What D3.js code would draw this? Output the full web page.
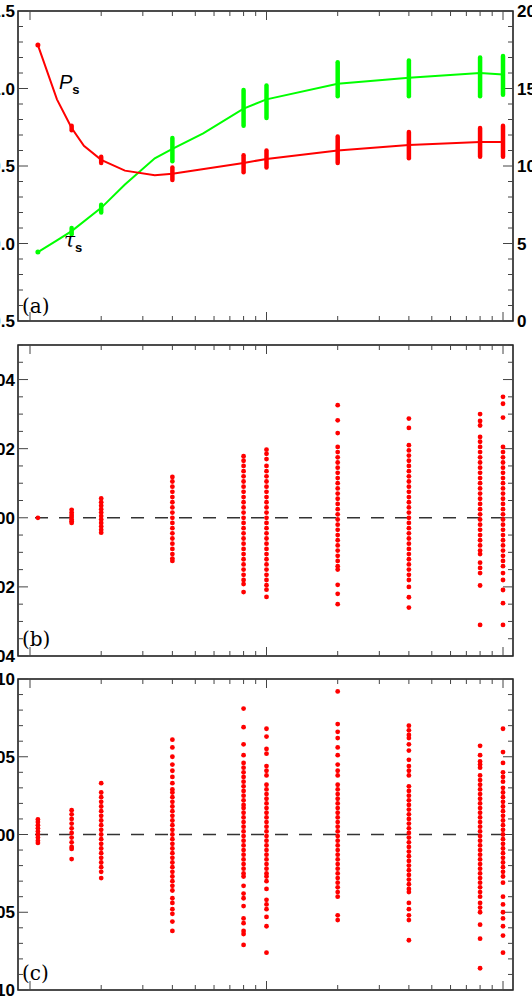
<!DOCTYPE html>
<html><head><meta charset="utf-8">
<script src="https://cdn.jsdelivr.net/npm/d3@7"></script>
<style>body{margin:0;background:#fff}svg{display:block}</style>
</head><body>
<script>
// ---------- data ----------
const xs = [1.08, 1.5, 2, 4, 8, 10, 20, 40, 80, 100];
const pLineX = [1.08, 1.3, 1.5, 1.69, 2, 2.52, 3.37, 4, 8, 10, 20, 40, 80, 100];
const pLineY = [1.28, 0.93, 0.745, 0.63, 0.54, 0.47, 0.44, 0.45, 0.52, 0.545, 0.60, 0.635, 0.655, 0.655];
const tLineX = [1.08, 1.3, 1.5, 2, 2.52, 3.37, 4, 5.4, 8, 10, 20, 40, 80, 100];
const tLineY = [4.45, 5.2, 5.8, 7.3, 8.8, 10.5, 11.1, 12.1, 13.7, 14.3, 15.3, 15.7, 16.0, 15.9];
const pRanges = [[1.5,0.73,0.76],[2,0.52,0.56],[4,0.41,0.49],[8,0.46,0.57],[10,0.49,0.60],[20,0.52,0.69],[40,0.55,0.72],[80,0.56,0.745],[100,0.56,0.76]];
const tRanges = [[1.5,5.6,6.0],[2,7.0,7.5],[4,10.3,11.8],[8,12.6,14.9],[10,13.1,15.2],[20,14.5,16.7],[40,14.5,16.8],[80,14.5,17.0],[100,14.6,17.1]];
const bVals = [
 [0],
 [0.0023,0.0015,0.0008,0.0002,-0.0005,-0.001,-0.0015],
 [0.0056,0.0045,0.0035,0.0025,0.0015,0.0005,-0.0005,-0.0015,-0.0025,-0.0035,-0.0043],
 [0.0118,0.0105,0.009,0.0075,0.006,0.0045,0.003,0.0015,0,-0.0015,-0.003,-0.0045,-0.006,-0.0075,-0.009,-0.0105,-0.0118,-0.0125],
 [0.0178,0.0165,0.015,0.0135,0.012,0.0105,0.009,0.0075,0.006,0.0045,0.003,0.0015,0,-0.0015,-0.003,-0.0045,-0.006,-0.0075,-0.009,-0.0105,-0.012,-0.0135,-0.015,-0.0165,-0.018,-0.0192,-0.0215],
 [0.0197,0.0185,0.017,0.015,0.0135,0.012,0.0105,0.009,0.0075,0.006,0.0045,0.003,0.0015,0,-0.0015,-0.003,-0.0045,-0.006,-0.0075,-0.009,-0.0105,-0.012,-0.0135,-0.015,-0.0165,-0.018,-0.0195,-0.0208,-0.0229],
 [0.0326,0.0282,0.0245,0.0205,0.019,0.0175,0.016,0.0145,0.013,0.0115,0.01,0.0085,0.007,0.0055,0.004,0.0025,0.001,-0.0005,-0.002,-0.0035,-0.005,-0.0065,-0.008,-0.0095,-0.011,-0.0125,-0.014,-0.015,-0.0194,-0.022,-0.025],
 [0.0287,0.026,0.021,0.0195,0.018,0.0165,0.015,0.0135,0.012,0.0105,0.009,0.0075,0.006,0.0045,0.003,0.0015,0,-0.0015,-0.003,-0.0045,-0.006,-0.0075,-0.009,-0.0105,-0.012,-0.0135,-0.015,-0.0165,-0.018,-0.020,-0.023,-0.026],
 [0.030,0.028,0.0267,0.0234,0.022,0.0205,0.019,0.0175,0.016,0.0145,0.013,0.0115,0.01,0.0085,0.007,0.0055,0.004,0.0025,0.001,-0.0005,-0.002,-0.0035,-0.005,-0.0065,-0.008,-0.0095,-0.0105,-0.013,-0.0145,-0.016,-0.0196,-0.031],
 [0.035,0.033,0.029,0.0205,0.019,0.0175,0.016,0.0145,0.013,0.0115,0.01,0.0085,0.007,0.0055,0.004,0.0025,0.001,-0.0005,-0.002,-0.0035,-0.005,-0.0065,-0.008,-0.0095,-0.011,-0.0125,-0.014,-0.016,-0.018,-0.0209,-0.0247,-0.031]
];
const cVals = [
 [0.0097,0.008,0.006,0.004,0.002,0,-0.002,-0.004,-0.0054],
 [0.0156,0.013,0.01,0.007,0.004,0.001,-0.002,-0.005,-0.008,-0.0093,-0.0158],
 [0.033,0.027,0.024,0.021,0.018,0.015,0.012,0.009,0.006,0.003,0,-0.003,-0.006,-0.009,-0.012,-0.015,-0.018,-0.021,-0.024,-0.028],
 [0.061,0.056,0.05,0.045,0.041,0.037,0.033,0.029,0.027,0.024,0.021,0.018,0.015,0.012,0.009,0.006,0.003,0,-0.003,-0.006,-0.009,-0.012,-0.015,-0.018,-0.021,-0.024,-0.027,-0.03,-0.033,-0.036,-0.041,-0.044,-0.048,-0.051,-0.056,-0.062],
 [0.081,0.069,0.058,0.051,0.046,0.043,0.040,0.037,0.034,0.031,0.028,0.025,0.022,0.019,0.017,0.014,0.011,0.008,0.005,0.002,-0.001,-0.004,-0.007,-0.010,-0.013,-0.016,-0.019,-0.022,-0.025,-0.027,-0.033,-0.038,-0.041,-0.046,-0.054,-0.057,-0.062,-0.064,-0.071],
 [0.068,0.063,0.055,0.052,0.044,0.041,0.038,0.032,0.029,0.026,0.023,0.020,0.017,0.014,0.011,0.008,0.005,0.002,-0.001,-0.004,-0.007,-0.010,-0.013,-0.016,-0.019,-0.022,-0.025,-0.027,-0.030,-0.035,-0.042,-0.045,-0.048,-0.053,-0.059,-0.076],
 [0.092,0.071,0.066,0.062,0.056,0.051,0.045,0.041,0.038,0.032,0.029,0.026,0.023,0.020,0.017,0.014,0.011,0.008,0.005,0.002,-0.001,-0.004,-0.007,-0.010,-0.013,-0.016,-0.019,-0.022,-0.025,-0.028,-0.031,-0.034,-0.037,-0.040,-0.052,-0.055],
 [0.070,0.067,0.064,0.062,0.058,0.054,0.048,0.044,0.041,0.038,0.031,0.028,0.025,0.022,0.019,0.016,0.013,0.010,0.007,0.004,0.001,-0.002,-0.005,-0.008,-0.011,-0.014,-0.017,-0.020,-0.023,-0.026,-0.029,-0.032,-0.035,-0.037,-0.044,-0.048,-0.052,-0.055,-0.068],
 [0.057,0.051,0.047,0.045,0.043,0.038,0.035,0.032,0.029,0.026,0.023,0.020,0.017,0.014,0.011,0.008,0.005,0.002,-0.001,-0.004,-0.007,-0.010,-0.013,-0.016,-0.019,-0.022,-0.025,-0.028,-0.031,-0.034,-0.037,-0.040,-0.044,-0.047,-0.050,-0.058,-0.067,-0.086],
 [0.068,0.053,0.046,0.040,0.037,0.034,0.030,0.027,0.024,0.021,0.018,0.015,0.012,0.009,0.006,0.003,0,-0.003,-0.006,-0.009,-0.012,-0.015,-0.018,-0.021,-0.024,-0.027,-0.031,-0.040,-0.045,-0.050,-0.054,-0.059,-0.065,-0.076]
];
const aLeftTicks = ["-0.5","0.0","0.5","1.0","1.5"];
const aRightTicks = ["0","5","10","15","20"];
const bTicks = ["-0.04","-0.02","0.00","0.02","0.04"];
const cTicks = ["-0.10","-0.05","0.00","0.05","0.10"];
const xTickLabels = ["1","10","100"];

// ---------- drawing ----------
const W=532,H=1002, L=18, R=513;
const svg=d3.select("body").append("svg").attr("width",W).attr("height",H)
  .style("font-family","'Liberation Sans',Arial,sans-serif");
const x=d3.scaleLog().domain([1,100]).range([30,503]);
const xMinor=[];
for(const d of [1,10]) for(let k=1;k<10;k++) xMinor.push(d*k);
xMinor.push(100);
const RED="#ff0000", GREEN="#00ff00";

function frame(top,bot){
  svg.append("rect").attr("x",L).attr("y",top).attr("width",R-L).attr("height",bot-top)
    .attr("fill","none").attr("stroke","#000").attr("stroke-width",1.4);
  xMinor.forEach(v=>{
    const major=(v===1||v===10||v===100); const len=major?9:5;
    const px=x(v);
    svg.append("line").attr("x1",px).attr("x2",px).attr("y1",bot).attr("y2",bot-len).attr("stroke","#444").attr("stroke-width",1);
    svg.append("line").attr("x1",px).attr("x2",px).attr("y1",top).attr("y2",top+len).attr("stroke","#444").attr("stroke-width",1);
  });
}
function yTicks(y,majors,minorStep,labels,side,both){
  const [d0,d1]=y.domain(); const lo=Math.min(d0,d1), hi=Math.max(d0,d1);
  const n=Math.round((hi-lo)/minorStep);
  for(let i=0;i<=n;i++){
    const v=lo+i*minorStep; const isMaj=majors.some(m=>Math.abs(m-v)<minorStep/10);
    const len=isMaj?10:5; const py=y(v);
    if(side==="left"||both){svg.append("line").attr("x1",L).attr("x2",L+len).attr("y1",py).attr("y2",py).attr("stroke","#444");}
    if(side==="right"||both){svg.append("line").attr("x1",R).attr("x2",R-len).attr("y1",py).attr("y2",py).attr("stroke","#444");}
  }
  majors.forEach((m,i)=>{
    const t=svg.append("text").attr("y",y(m)+6).attr("font-size",17).attr("font-weight","bold").attr("fill","#000").text(labels[i]);
    if(side==="left") t.attr("x",L-3).attr("text-anchor","end"); else t.attr("x",R+4).attr("text-anchor","start");
  });
}

const aTop=11,aBot=321;
const yP=d3.scaleLinear().domain([-0.5,1.5]).range([aBot,aTop]);
const yT=d3.scaleLinear().domain([0,20]).range([aBot,aTop]);
frame(aTop,aBot);
yTicks(yP,[-0.5,0,0.5,1,1.5],0.1,aLeftTicks,"left",false);
yTicks(yT,[0,5,10,15,20],1,aRightTicks,"right",false);
const lineP=d3.line().x((d,i)=>x(pLineX[i])).y(d=>yP(d));
const lineT=d3.line().x((d,i)=>x(tLineX[i])).y(d=>yT(d));
svg.append("path").attr("d",lineT(tLineY)).attr("fill","none").attr("stroke",GREEN).attr("stroke-width",2);
svg.append("path").attr("d",lineP(pLineY)).attr("fill","none").attr("stroke",RED).attr("stroke-width",2);
tRanges.forEach(r=>svg.append("line").attr("x1",x(r[0])).attr("x2",x(r[0])).attr("y1",yT(r[1])).attr("y2",yT(r[2]))
  .attr("stroke",GREEN).attr("stroke-width",4.5).attr("stroke-linecap","round"));
pRanges.forEach(r=>svg.append("line").attr("x1",x(r[0])).attr("x2",x(r[0])).attr("y1",yP(r[1])).attr("y2",yP(r[2]))
  .attr("stroke",RED).attr("stroke-width",4.5).attr("stroke-linecap","round"));
svg.append("circle").attr("cx",x(xs[0])).attr("cy",yP(pLineY[0])).attr("r",2.5).attr("fill",RED);
svg.append("circle").attr("cx",x(xs[0])).attr("cy",yT(tLineY[0])).attr("r",2.5).attr("fill",GREEN);
const pl=svg.append("text").attr("x",59).attr("y",89).attr("font-size",20);
pl.append("tspan").attr("font-style","italic").text("P");
pl.append("tspan").attr("font-size",13).attr("font-weight","bold").attr("dy",5).text("s");
const tl=svg.append("text").attr("x",64).attr("y",247).attr("font-size",20);
tl.append("tspan").attr("font-style","italic").attr("font-family","'DejaVu Serif',serif").text("τ");
tl.append("tspan").attr("font-size",13).attr("font-weight","bold").attr("dy",5).text("s");
svg.append("text").attr("x",22).attr("y",313).attr("font-size",20).attr("font-family","'DejaVu Serif',serif").text("(a)");

function resid(top,bot,domain,majors,minor,labels,vals,lab){
  const y=d3.scaleLinear().domain(domain).range([bot,top]);
  frame(top,bot);
  yTicks(y,majors,minor,labels,"left",true);
  svg.append("line").attr("x1",x(1.05)).attr("x2",R-8).attr("y1",y(0)).attr("y2",y(0))
    .attr("stroke","#333").attr("stroke-width",1.5).attr("stroke-dasharray","13,11");
  vals.forEach((arr,i)=>arr.forEach(v=>svg.append("circle").attr("cx",x(xs[i])).attr("cy",y(v)).attr("r",2.4).attr("fill",RED)));
  svg.append("text").attr("x",22).attr("y",bot-10).attr("font-size",20).attr("font-family","'DejaVu Serif',serif").text(lab);
}
resid(345,656,[-0.04,0.05],[-0.04,-0.02,0,0.02,0.04],0.005,bTicks,bVals,"(b)");
resid(679,990,[-0.1,0.1],[-0.1,-0.05,0,0.05,0.1],0.01,cTicks,cVals,"(c)");
[1,10,100].forEach((v,i)=>svg.append("text").attr("x",x(v)).attr("y",1014).attr("text-anchor","middle").attr("font-size",17).text(xTickLabels[i]));
</script>
</body></html>
